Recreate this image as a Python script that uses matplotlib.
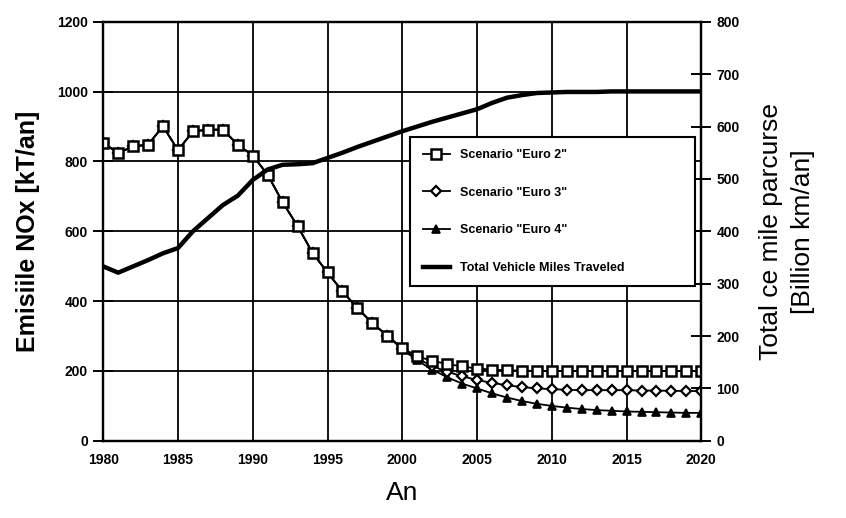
import numpy as np
import matplotlib
matplotlib.use('Agg')
import matplotlib.pyplot as plt

plt.rcParams['font.family'] = ['Liberation Sans Narrow', 'Liberation Sans', 'DejaVu Sans']

years = np.arange(1980, 2021)

# NOx emissions [kT/an], left axis
euro2 = [853, 824, 843, 848, 901, 832, 886, 891, 891, 848,
         817, 762, 683, 615, 538, 482, 428, 380, 337, 301,
         266, 242, 229, 220, 213, 207, 204, 202, 201, 200,
         200, 200, 200, 200, 200, 200, 200, 200, 200, 200, 200]
euro3 = [853, 824, 843, 848, 901, 832, 886, 891, 891, 848,
         817, 762, 683, 615, 538, 482, 428, 380, 337, 301,
         264, 236, 214, 198, 185, 174, 166, 159, 154, 150,
         148, 146, 145, 145, 145, 145, 144, 144, 143, 143, 142]
euro4 = [853, 824, 843, 848, 901, 832, 886, 891, 891, 848,
         817, 762, 683, 615, 538, 482, 428, 380, 337, 301,
         262, 230, 204, 182, 164, 150, 136, 124, 114, 106,
         100, 95, 91, 88, 86, 84, 83, 82, 81, 80, 80]

# total vehicle km [Billion km/an], right axis
vmt = [333, 321, 333, 345, 358, 368, 400, 425, 450, 468,
       498, 518, 527, 528, 530, 540, 550, 561, 571, 581,
       591, 600, 609, 617, 625, 633, 645, 655, 660, 664,
       665, 666, 666, 666, 667, 667, 667, 667, 667, 667, 667]

fig = plt.figure(figsize=(8.46, 5.18), dpi=100)
ax = fig.add_axes([0.122, 0.149, 0.707, 0.809])
ax2 = ax.twinx()

l3, = ax.plot(years, euro4, color='black', lw=1.3, marker='^', ms=6,
              mfc='black', mec='black', mew=1.2, label='Scenario "Euro 4"', zorder=3)
l2, = ax.plot(years, euro3, color='black', lw=1.3, marker='D', ms=5,
              mfc='white', mec='black', mew=1.6, label='Scenario "Euro 3"', zorder=4)
l1, = ax.plot(years, euro2, color='black', lw=1.3, marker='s', ms=7,
              mfc='white', mec='black', mew=1.8, label='Scenario "Euro 2"', zorder=5)
l4, = ax2.plot(years, vmt, color='black', lw=3.2, label='Total Vehicle Miles Traveled')

ax.set_xlim(1980, 2020)
ax.set_ylim(0, 1200)
ax2.set_ylim(0, 800)
ax.set_xticks(np.arange(1980, 2021, 5))
ax.set_yticks(np.arange(0, 1201, 200))
ax2.set_yticks(np.arange(0, 801, 100))
ax.grid(True, color='black', lw=1.3)
ax.set_axisbelow(True)

for a in (ax, ax2):
    for s in a.spines.values():
        s.set_linewidth(1.6)
ax.tick_params(axis='y', direction='inout', length=14, width=1.4, labelsize=10, pad=4)
ax.tick_params(axis='x', length=0, labelsize=10, pad=9)
ax2.tick_params(axis='y', direction='inout', length=14, width=1.4, labelsize=10, pad=4)
for lab in ax.get_xticklabels() + ax.get_yticklabels() + ax2.get_yticklabels():
    lab.set_fontweight('bold')

ax.set_ylabel('Emisiile NOx [kT/an]', fontsize=18, fontweight='bold',
              family=['Liberation Sans', 'DejaVu Sans'], labelpad=12)
ax2.set_ylabel('Total ce mile parcurse\n[Billion km/an]', fontsize=19,
               family=['Liberation Sans', 'DejaVu Sans'], labelpad=14,
               linespacing=1.4)
ax.set_xlabel('An', fontsize=19, family=['Liberation Sans', 'DejaVu Sans'], labelpad=10)

leg = ax2.legend(handles=[l1, l2, l3, l4], loc='upper left',
                 bbox_to_anchor=(0.513, 0.726, 0.477, 0.0), mode='expand',
                 fancybox=False, edgecolor='black', framealpha=1,
                 prop={'weight': 'bold', 'size': 9},
                 labelspacing=2.05, handlelength=2.2, borderpad=1.0,
                 borderaxespad=0.0)
leg.get_frame().set_linewidth(1.5)
leg.set_zorder(10)

fig.savefig('out.png', dpi=100)
